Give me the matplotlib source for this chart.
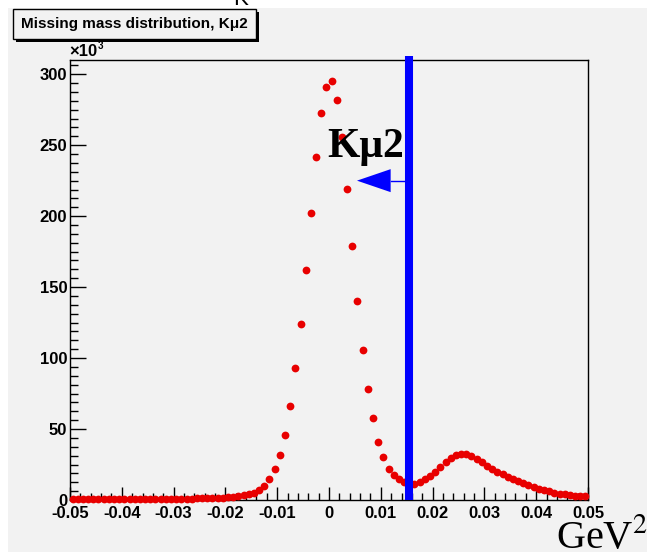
import matplotlib
matplotlib.use("Agg")
import matplotlib.pyplot as plt
from matplotlib.patches import Rectangle, Polygon
from matplotlib.ticker import MultipleLocator, FixedLocator
import numpy as np

# ---- data (counts in units of 10^3), 100 bins over [-0.05, 0.05] ----
bin_lo = -0.05
bin_hi = 0.05
counts = [
    0.4, 0.4, 0.4, 0.5, 0.4, 0.5, 0.5, 0.5, 0.5, 0.6,
    0.5, 0.6, 0.6, 0.6, 0.7, 0.7, 0.7, 0.8, 0.8, 0.8,
    0.9, 0.9, 1.0, 1.0, 1.1, 1.2, 1.3, 1.4, 1.5, 1.7,
    2.0, 2.3, 2.7, 3.2, 4.0, 5.0, 6.8, 9.6, 14.6, 22.0,
    32.0, 46.0, 66.0, 93.0, 124.0, 162.0, 202.0, 242.0, 273.0, 291.0,
    295.0, 282.0, 256.0, 219.0, 179.0, 140.0, 106.0, 78.0, 57.5, 41.0,
    30.0, 22.0, 17.6, 14.6, 12.5, 11.5, 11.5, 12.5, 14.5, 17.0,
    20.0, 23.0, 26.5, 29.5, 31.5, 32.5, 32.3, 31.0, 29.0, 26.5,
    24.0, 22.0, 20.0, 18.0, 16.5, 15.0, 13.5, 12.0, 10.5, 9.2,
    8.0, 7.0, 6.0, 5.2, 4.5, 4.0, 3.5, 3.1, 2.8, 2.5,
]
x_ticks = [-0.05, -0.04, -0.03, -0.02, -0.01, 0, 0.01, 0.02, 0.03, 0.04, 0.05]
x_tick_labels = ["-0.05", "-0.04", "-0.03", "-0.02", "-0.01", "0",
                 "0.01", "0.02", "0.03", "0.04", "0.05"]
y_ticks = [0, 50, 100, 150, 200, 250, 300]
cut_x = 0.0155
arrow_tip_x = 0.0054
arrow_base_x = 0.0119
arrow_y = 225
title = "Missing mass distribution, K\u03bc2"
cut_label = "K\u03bc2"

W, H = 647, 552
BG = "#f2f2f2"
plt.rcParams["mathtext.fontset"] = "stix"
fig = plt.figure(figsize=(W / 100, H / 100), dpi=100, facecolor="white")

# gray canvas with thin white margins at left and top
fig.patches.append(Rectangle((8 / W, 0), 1 - 8 / W, 1 - 8 / H, transform=fig.transFigure,
                             facecolor=BG, edgecolor="none", zorder=-10))

L, R, T, B = 70, 588, 60, 500
ax = fig.add_axes([L / W, 1 - B / H, (R - L) / W, (B - T) / H])
ax.set_facecolor(BG)
ax.set_zorder(1)

n = len(counts)
width = (bin_hi - bin_lo) / n
centers = [bin_lo + width * (i + 0.5) for i in range(n)]
ax.plot(centers, counts, linestyle="none", marker="o", markersize=5.6,
        color="#e80000", markeredgewidth=0, zorder=3, clip_on=False)

ax.set_xlim(bin_lo, bin_hi)
ax.set_ylim(0, 310)

for s in ax.spines.values():
    s.set_linewidth(1.0)
    s.set_color("black")

ax.xaxis.set_major_locator(FixedLocator(x_ticks))
ax.set_xticklabels(x_tick_labels)
ax.xaxis.set_minor_locator(MultipleLocator(0.002))
ax.yaxis.set_major_locator(FixedLocator(y_ticks))
ax.yaxis.set_minor_locator(MultipleLocator(6.25))

ax.tick_params(axis="x", which="major", direction="in", length=9.4, width=1.0,
               bottom=True, top=False, pad=4)
ax.tick_params(axis="x", which="minor", direction="in", length=5.0, width=1.0,
               bottom=True, top=False)
ax.tick_params(axis="y", which="major", direction="in", length=11.3, width=1.0,
               left=True, right=False, pad=2)
ax.tick_params(axis="y", which="minor", direction="in", length=5.8, width=1.0,
               left=True, right=False)
for lab in ax.get_xticklabels() + ax.get_yticklabels():
    lab.set_fontfamily("Liberation Sans")
    lab.set_fontweight("bold")
    lab.set_fontsize(12)

# cut line
ax.plot([cut_x, cut_x], [0, 313], color="#0000ff", linewidth=5.8,
        solid_capstyle="butt", zorder=5, clip_on=False)
# arrow
ax.plot([arrow_base_x, cut_x], [arrow_y, arrow_y], color="#0000ff", linewidth=1.0, zorder=5)
ax.add_patch(Polygon([[arrow_tip_x, arrow_y], [arrow_base_x, arrow_y + 8.1],
                      [arrow_base_x, arrow_y - 8.1]], closed=True,
                     facecolor="#0000ff", edgecolor="none", zorder=5))
ax.text(-0.0004, 241.5, cut_label, fontfamily="Liberation Serif", fontweight="bold",
        fontsize=30, color="black", ha="left", va="baseline", zorder=6)

# title box with shadow
bx0, by0, bx1, by1 = 13, 9, 256, 39
fig.patches.append(Rectangle(((bx0 + 3) / W, 1 - (by1 + 3) / H), (bx1 - bx0) / W, (by1 - by0) / H,
                             transform=fig.transFigure, facecolor="black", edgecolor="none", zorder=2))
fig.patches.append(Rectangle((bx0 / W, 1 - by1 / H), (bx1 - bx0) / W, (by1 - by0) / H,
                             transform=fig.transFigure, facecolor=BG, edgecolor="black",
                             linewidth=1.0, zorder=3))
fig.text((bx0 + bx1) / 2 / W, 1 - (by0 + by1) / 2 / H, title, fontfamily="Liberation Sans",
         fontweight="bold", fontsize=11, ha="center", va="center", zorder=4)

# exponent label
fig.text(69 / W, 1 - 56 / H, "\u00d710", fontfamily="Liberation Sans", fontweight="bold",
         fontsize=12, ha="left", va="baseline")
fig.text(98 / W, 1 - 49 / H, "3", fontfamily="Liberation Sans", fontweight="bold",
         fontsize=7, ha="left", va="baseline")

# cut-off letter at the very top
fig.text(233 / W, 1 - 5 / H, "K", fontfamily="Liberation Sans", fontsize=16,
         ha="left", va="baseline")

# unit label
fig.text(556 / W, 1 - 548 / H, "GeV$^{2}$", fontfamily="Liberation Serif",
         fontsize=29, ha="left", va="baseline")

fig.savefig("out.png", dpi=100, facecolor=fig.get_facecolor())
